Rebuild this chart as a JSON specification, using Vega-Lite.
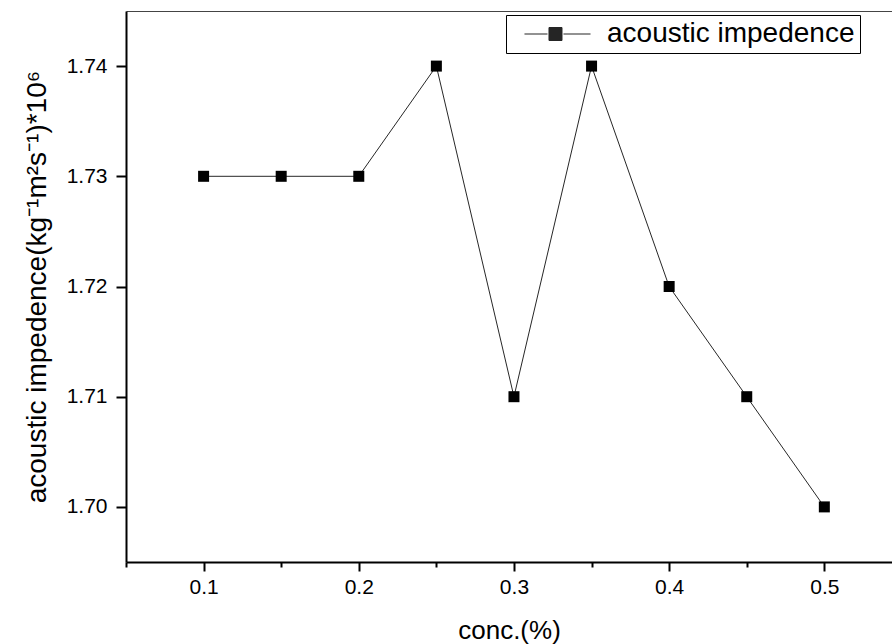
{
  "$schema": "https://vega.github.io/schema/vega-lite/v6.json",
  "width": 766,
  "height": 551,
  "autosize": {"type": "none"},
  "padding": {"left": 126, "top": 11, "right": 0, "bottom": 82},
  "background": "white",
  "config": {
    "view": {"stroke": null},
    "font": "Liberation Sans",
    "axis": {
      "grid": false,
      "domainColor": "black",
      "domainWidth": 2,
      "tickColor": "black",
      "tickWidth": 2,
      "labelColor": "black",
      "labelFont": "Liberation Sans",
      "titleColor": "black",
      "titleFont": "Liberation Sans",
      "titleFontWeight": "normal"
    }
  },
  "data": {
    "values": [
      {"conc": 0.10, "imp": 1.73, "series": "acoustic impedence"},
      {"conc": 0.15, "imp": 1.73, "series": "acoustic impedence"},
      {"conc": 0.20, "imp": 1.73, "series": "acoustic impedence"},
      {"conc": 0.25, "imp": 1.74, "series": "acoustic impedence"},
      {"conc": 0.30, "imp": 1.71, "series": "acoustic impedence"},
      {"conc": 0.35, "imp": 1.74, "series": "acoustic impedence"},
      {"conc": 0.40, "imp": 1.72, "series": "acoustic impedence"},
      {"conc": 0.45, "imp": 1.71, "series": "acoustic impedence"},
      {"conc": 0.50, "imp": 1.70, "series": "acoustic impedence"}
    ]
  },
  "resolve": {"axis": {"x": "independent", "y": "independent"}},
  "layer": [
    {
      "mark": {"type": "point", "opacity": 0},
      "encoding": {
        "x": {
          "field": "conc", "type": "quantitative",
          "scale": {"domain": [0.05, 0.5436], "nice": false, "zero": false},
          "axis": {
            "orient": "top", "ticks": false, "labels": false, "title": null,
            "domainWidth": 1, "domainColor": "#444"
          }
        },
        "y": {
          "field": "imp", "type": "quantitative",
          "scale": {"domain": [1.695, 1.745], "nice": false, "zero": false},
          "axis": null
        }
      }
    },
    {
      "mark": {"type": "line", "strokeWidth": 1, "opacity": 0.85},
      "encoding": {
        "x": {
          "field": "conc", "type": "quantitative",
          "axis": {
            "values": [0.1, 0.2, 0.3, 0.4, 0.5], "format": ".1f",
            "tickSize": 9, "labelFontSize": 21, "labelPadding": 5,
            "title": "conc.(%)", "titleFontSize": 26, "titlePadding": 20
          }
        },
        "y": {
          "field": "imp", "type": "quantitative",
          "axis": {
            "values": [1.70, 1.71, 1.72, 1.73, 1.74], "format": ".2f",
            "tickSize": 10, "labelFontSize": 21, "labelPadding": 9,
            "title": "acoustic impedence(kg⁻¹m²s⁻¹)*10⁶", "titleFontSize": 28,
            "titlePadding": 15
          }
        },
        "color": {
          "field": "series", "type": "nominal",
          "scale": {"range": ["black"]},
          "legend": {
            "orient": "none", "legendX": 380, "legendY": 4,
            "title": null,
            "strokeColor": "black",
            "padding": 5,
            "fillColor": "white",
            "symbolType": "M-0.08,0H3.46M5.92,0H10.08M3.69,-1H5.69V1H3.69Z",
            "symbolSize": 169,
            "symbolStrokeWidth": 1,
            "symbolStrokeColor": "black",
            "symbolFillColor": "black",
            "labelOffset": 68,
            "labelFontSize": 28,
            "labelLimit": 500,
            "labelColor": "black",
            "labelFont": "Liberation Sans"
          }
        }
      }
    },
    {
      "mark": {"type": "point", "shape": "square", "filled": true, "size": 121, "opacity": 1},
      "encoding": {
        "x": {
          "field": "conc", "type": "quantitative",
          "axis": {
            "values": [0.05, 0.15, 0.25, 0.35, 0.45],
            "tickSize": 5, "labels": false, "domain": false, "title": null
          }
        },
        "y": {
          "field": "imp", "type": "quantitative",
          "axis": {
            "values": [1.695, 1.705, 1.715, 1.725, 1.735, 1.745],
            "tickSize": 5, "labels": false, "domain": false, "title": null
          }
        },
        "color": {"field": "series", "type": "nominal"}
      }
    }
  ]
}
